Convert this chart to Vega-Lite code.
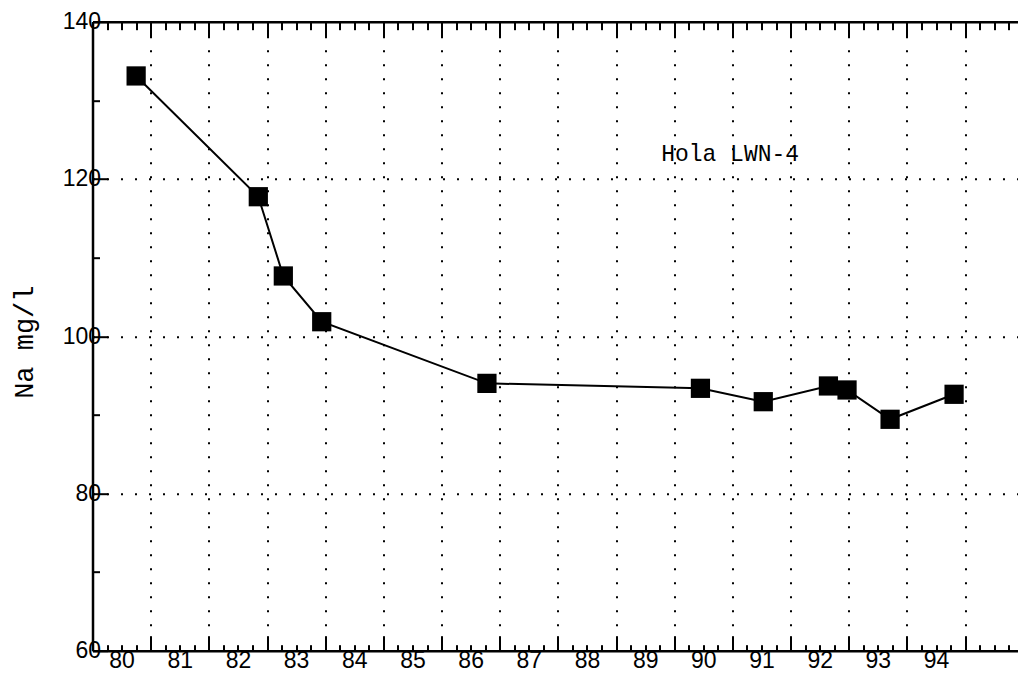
{
  "$schema": "https://vega.github.io/schema/vega-lite/v6.json",
  "autosize": {"type": "none"},
  "width": 925,
  "height": 629,
  "padding": {"left": 92.5, "top": 21.7, "right": 0, "bottom": 31},
  "background": "white",
  "config": {"view": {"stroke": null}},
  "datasets": {
    "na": [
      {"year": 80.75, "na": 133.1},
      {"year": 82.85, "na": 117.74},
      {"year": 83.28, "na": 107.66},
      {"year": 83.94, "na": 101.84},
      {"year": 86.78, "na": 94.0},
      {"year": 90.45, "na": 93.37},
      {"year": 91.53, "na": 91.67},
      {"year": 92.65, "na": 93.67},
      {"year": 92.97, "na": 93.16},
      {"year": 93.71, "na": 89.43},
      {"year": 94.81, "na": 92.61}
    ],
    "note": [
      {"year": 90.96, "na": 122.3, "label": "Hola LWN-4"}
    ]
  },
  "layer": [
    {
      "data": {"name": "na"},
      "mark": {"type": "line", "color": "black", "strokeWidth": 2},
      "encoding": {
        "x": {
          "field": "year", "type": "quantitative",
          "scale": {"domain": [80, 95.9], "nice": false, "zero": false},
          "axis": {
            "orient": "bottom",
            "values": [80,80.25,80.5,80.75,81,81.25,81.5,81.75,82,82.25,82.5,82.75,83,83.25,83.5,83.75,84,84.25,84.5,84.75,85,85.25,85.5,85.75,86,86.25,86.5,86.75,87,87.25,87.5,87.75,88,88.25,88.5,88.75,89,89.25,89.5,89.75,90,90.25,90.5,90.75,91,91.25,91.5,91.75,92,92.25,92.5,92.75,93,93.25,93.5,93.75,94,94.25,94.5,94.75,95,95.25,95.5,95.75],
            "labelExpr": "(datum.value % 1 == 0.5 && datum.value < 95) ? toString(floor(datum.value)) : ''",
            "tickSize": {"condition": {"test": "datum.value % 1 == 0", "value": -15}, "value": -6},
            "tickColor": "black", "tickWidth": 2,
            "grid": true,
            "gridOpacity": {"condition": {"test": "datum.value % 1 == 0", "value": 1}, "value": 0},
            "gridDash": [2, 12], "gridWidth": 2, "gridColor": "black",
            "domainColor": "black", "domainWidth": 2.5,
            "labelFont": "Liberation Sans", "labelFontSize": 23, "labelColor": "black",
            "labelPadding": 5, "labelOverlap": false, "labelFlush": false, "labelBound": false,
            "title": null
          }
        },
        "y": {
          "field": "na", "type": "quantitative",
          "scale": {"domain": [60, 140], "nice": false, "zero": false},
          "axis": {
            "values": [60,70,80,90,100,110,120,130,140],
            "labelExpr": "datum.value % 20 == 0 ? toString(datum.value) : ''",
            "tickSize": {"condition": {"test": "datum.value % 20 == 0", "value": -15}, "value": -7},
            "tickColor": "black", "tickWidth": 2,
            "grid": true,
            "gridOpacity": {"condition": {"test": "datum.value % 20 == 0 && datum.value > 60 && datum.value < 140", "value": 1}, "value": 0},
            "gridDash": [2, 12], "gridWidth": 2, "gridColor": "black",
            "domainColor": "black", "domainWidth": 2.5,
            "labelFont": "Liberation Sans", "labelFontSize": 23, "labelColor": "black",
            "labelPadding": 7, "labelOverlap": false, "labelFlush": false, "labelBound": false,
            "title": "Na mg/l",
            "titleFont": "Liberation Mono", "titleFontSize": 27, "titleFontWeight": "normal", "titleColor": "black",
            "titleAngle": -90, "titleX": -60, "titleY": 320, "titleAlign": "center", "titleBaseline": "alphabetic"
          }
        }
      }
    },
    {
      "data": {"name": "na"},
      "mark": {"type": "point", "shape": "square", "filled": true, "color": "black", "size": 370, "opacity": 1},
      "encoding": {
        "x": {"field": "year", "type": "quantitative", "axis": null},
        "y": {"field": "na", "type": "quantitative"}
      }
    },
    {
      "data": {"name": "note"},
      "mark": {"type": "text", "font": "Liberation Mono", "fontSize": 23, "color": "black", "align": "center", "baseline": "alphabetic"},
      "encoding": {
        "x": {
          "field": "year", "type": "quantitative",
          "axis": {
            "orient": "top",
            "values": [80,80.25,80.5,80.75,81,81.25,81.5,81.75,82,82.25,82.5,82.75,83,83.25,83.5,83.75,84,84.25,84.5,84.75,85,85.25,85.5,85.75,86,86.25,86.5,86.75,87,87.25,87.5,87.75,88,88.25,88.5,88.75,89,89.25,89.5,89.75,90,90.25,90.5,90.75,91,91.25,91.5,91.75,92,92.25,92.5,92.75,93,93.25,93.5,93.75,94,94.25,94.5,94.75,95,95.25,95.5,95.75],
            "labels": false,
            "tickSize": {"condition": {"test": "datum.value % 1 == 0", "value": -15}, "value": -8},
            "tickColor": "black", "tickWidth": 2,
            "grid": false,
            "domainColor": "black", "domainWidth": 2.5,
            "title": null
          }
        },
        "y": {"field": "na", "type": "quantitative"},
        "text": {"field": "label"}
      }
    }
  ],
  "resolve": {"axis": {"x": "independent"}}
}
